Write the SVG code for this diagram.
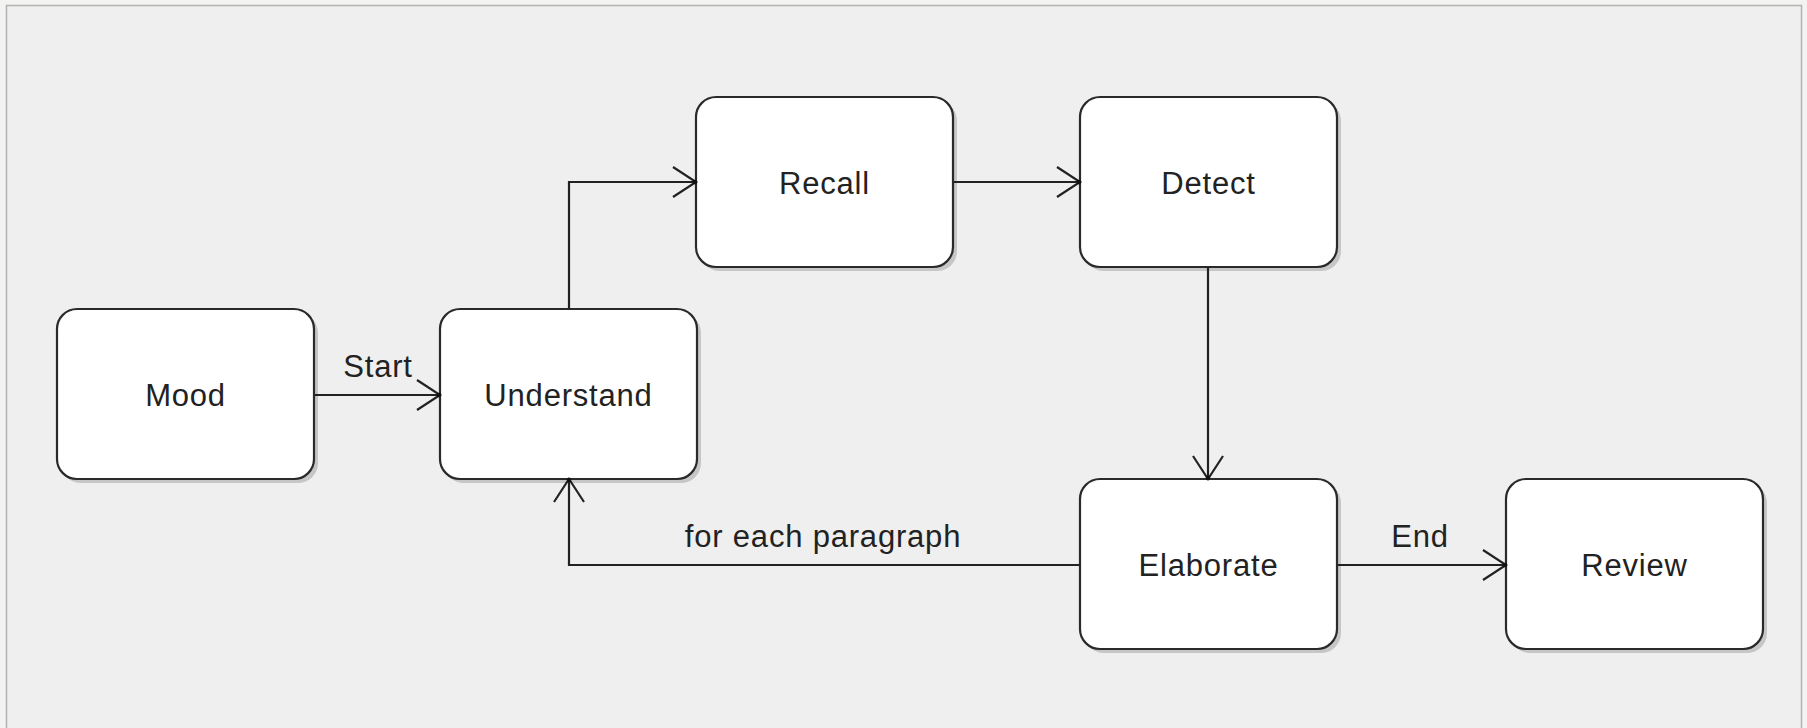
<svg xmlns="http://www.w3.org/2000/svg" width="1807" height="728" viewBox="0 0 1807 728">
<style>
.box{fill:#ffffff;stroke:#2a2a2a;stroke-width:2.2}
.shadow{fill:#c6c6c6}
.lbl{font-family:"Liberation Sans",Arial,sans-serif;font-size:31px;letter-spacing:0.8px;fill:#222;text-anchor:middle}
.conn{fill:none;stroke:#222;stroke-width:2.2}
</style>
<defs>
<marker id="arr" markerUnits="userSpaceOnUse" markerWidth="40" markerHeight="40" viewBox="-30 -20 40 40" refX="0" refY="0" orient="auto">
<path d="M-23,-15 L0,0 L-23,15" fill="none" stroke="#222" stroke-width="2.2"/>
<circle cx="-1" cy="0" r="2.2" fill="#111"/>
</marker>
</defs>
<rect x="0" y="0" width="1807" height="728" fill="#f3f3f1"/>
<rect x="6.5" y="5.5" width="1795" height="740" fill="#efefef" stroke="#b2b2b2" stroke-width="1.5"/>
<g id="mood">
<rect class="shadow" x="61" y="313" width="257" height="170" rx="20"/>
<rect class="box" x="57" y="309" width="257" height="170" rx="20"/>
<text class="lbl" x="185.5" y="406">Mood</text>
</g>
<g id="understand">
<rect class="shadow" x="444" y="313" width="257" height="170" rx="20"/>
<rect class="box" x="440" y="309" width="257" height="170" rx="20"/>
<text class="lbl" x="568.5" y="406">Understand</text>
</g>
<g id="recall">
<rect class="shadow" x="700" y="101" width="257" height="170" rx="20"/>
<rect class="box" x="696" y="97" width="257" height="170" rx="20"/>
<text class="lbl" x="824.5" y="194">Recall</text>
</g>
<g id="detect">
<rect class="shadow" x="1084" y="101" width="257" height="170" rx="20"/>
<rect class="box" x="1080" y="97" width="257" height="170" rx="20"/>
<text class="lbl" x="1208.5" y="194">Detect</text>
</g>
<g id="elaborate">
<rect class="shadow" x="1084" y="483" width="257" height="170" rx="20"/>
<rect class="box" x="1080" y="479" width="257" height="170" rx="20"/>
<text class="lbl" x="1208.5" y="576">Elaborate</text>
</g>
<g id="review">
<rect class="shadow" x="1510" y="483" width="257" height="170" rx="20"/>
<rect class="box" x="1506" y="479" width="257" height="170" rx="20"/>
<text class="lbl" x="1634.5" y="576">Review</text>
</g>
<g id="connectors">
<path class="conn" d="M315,395 L440,395" marker-end="url(#arr)"/>
<path class="conn" d="M569,309 L569,182 L696,182" marker-end="url(#arr)"/>
<path class="conn" d="M953,182 L1080,182" marker-end="url(#arr)"/>
<path class="conn" d="M1208,267 L1208,479" marker-end="url(#arr)"/>
<path class="conn" d="M1080,565 L569,565 L569,479" marker-end="url(#arr)"/>
<path class="conn" d="M1337,565 L1506,565" marker-end="url(#arr)"/>
<text class="lbl" x="378" y="377">Start</text>
<text class="lbl" x="823" y="547">for each paragraph</text>
<text class="lbl" x="1420" y="547">End</text>
</g>
</svg>
